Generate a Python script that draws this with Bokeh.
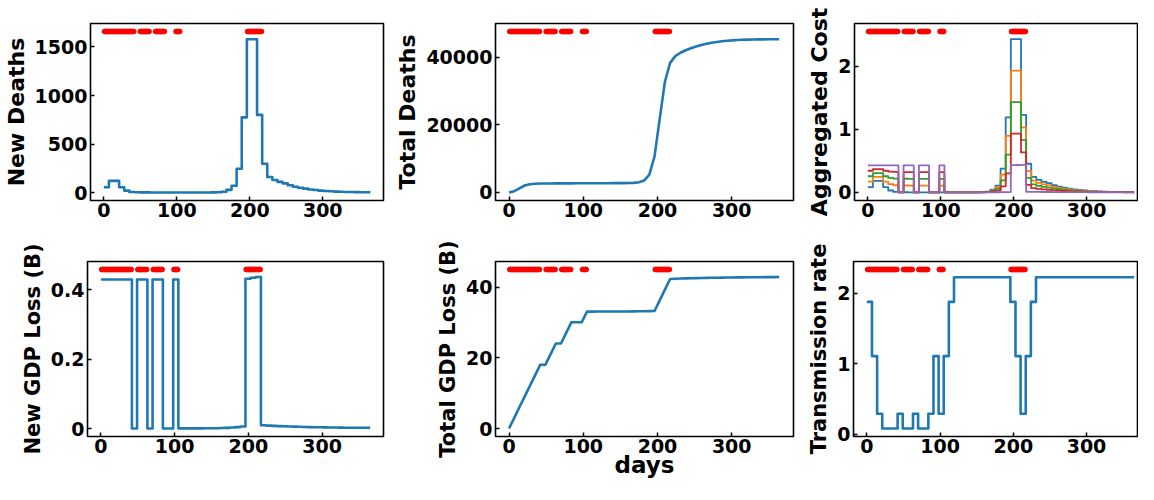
from bokeh.plotting import figure
from bokeh.layouts import column, row
from bokeh.models import Range1d, FixedTicker
from bokeh.embed import file_html
from bokeh.resources import INLINE

# ---------------- data (weekly values, week starting on the given day) ----------------
week_days = list(range(0, 365, 7))
end_day = 365

new_deaths = [55, 120, 120, 55, 20, 6, 3, 2, 1.5, 1,
              1, 1, 1, 1, 1, 1, 1, 1, 1, 1,
              1, 1.5, 3, 8, 28, 70, 245, 775, 1580, 1580,
              800, 296, 160, 130, 110, 95, 75, 60, 50, 40,
              32, 26, 20, 16, 13, 10, 8, 6, 5, 4,
              3, 3, 2]

total_deaths = [0, 385, 1225, 2065, 2450, 2590, 2632, 2653, 2667, 2678,
                2685, 2692, 2699, 2706, 2713, 2720, 2727, 2734, 2741, 2748,
                2755, 2762, 2772, 2790, 2840, 3040, 3530, 5250, 10700, 21800,
                32800, 38400, 40400, 41400, 42150, 42750, 43250, 43700, 44050, 44350,
                44600, 44800, 44950, 45070, 45160, 45230, 45280, 45320, 45350, 45370,
                45390, 45400, 45410]

cost_w100 = [0.085, 0.185, 0.185, 0.085, 0.031, 0.009, 0.005, 0.003, 0.002, 0.002,
             0.002, 0.002, 0.002, 0.002, 0.002, 0.002, 0.002, 0.002, 0.002, 0.002,
             0.002, 0.002, 0.005, 0.012, 0.043, 0.108, 0.377, 1.192, 2.43, 2.43,
             1.23, 0.455, 0.246, 0.2, 0.169, 0.146, 0.115, 0.092, 0.077, 0.062,
             0.049, 0.04, 0.031, 0.025, 0.02, 0.015, 0.012, 0.009, 0.008, 0.006,
             0.005, 0.005, 0.003]
cost_w75 = [0.171, 0.246, 0.246, 0.171, 0.131, 0.114, 0.003, 0.110, 0.109, 0.001,
            0.109, 0.109, 0.001, 0.001, 0.109, 0.001, 0.001, 0.001, 0.001, 0.001,
            0.001, 0.002, 0.004, 0.010, 0.033, 0.082, 0.284, 0.896, 1.931, 1.931,
            1.032, 0.343, 0.187, 0.152, 0.129, 0.111, 0.088, 0.070, 0.059, 0.048,
            0.038, 0.031, 0.024, 0.020, 0.016, 0.012, 0.010, 0.008, 0.007, 0.005,
            0.005, 0.005, 0.003]
cost_w50 = [0.257, 0.307, 0.307, 0.257, 0.230, 0.220, 0.002, 0.217, 0.216, 0.001,
            0.216, 0.216, 0.001, 0.001, 0.216, 0.001, 0.001, 0.001, 0.001, 0.001,
            0.001, 0.001, 0.003, 0.007, 0.023, 0.056, 0.190, 0.599, 1.431, 1.433,
            0.834, 0.232, 0.127, 0.104, 0.088, 0.076, 0.061, 0.049, 0.041, 0.033,
            0.027, 0.022, 0.018, 0.014, 0.012, 0.009, 0.008, 0.006, 0.006, 0.005,
            0.004, 0.004, 0.003]
cost_w25 = [0.344, 0.369, 0.369, 0.344, 0.330, 0.325, 0.001, 0.323, 0.323, 0.000,
            0.323, 0.323, 0.000, 0.000, 0.323, 0.000, 0.000, 0.000, 0.000, 0.000,
            0.000, 0.001, 0.002, 0.004, 0.012, 0.029, 0.097, 0.303, 0.932, 0.934,
            0.635, 0.121, 0.068, 0.056, 0.048, 0.041, 0.033, 0.027, 0.023, 0.019,
            0.016, 0.013, 0.011, 0.009, 0.008, 0.006, 0.005, 0.005, 0.004, 0.004,
            0.003, 0.003, 0.003]
cost_w0 = [0.43, 0.43, 0.43, 0.43, 0.43, 0.43, 0.0, 0.43, 0.43, 0.0,
           0.43, 0.43, 0.0, 0.0, 0.43, 0.0, 0.0, 0.0, 0.001, 0.001,
           0.001, 0.001, 0.001, 0.002, 0.002, 0.003, 0.004, 0.006, 0.432, 0.435,
           0.437, 0.01, 0.009, 0.008, 0.007, 0.007, 0.006, 0.006, 0.005, 0.005,
           0.004, 0.004, 0.004, 0.003, 0.003, 0.003, 0.003, 0.003, 0.002, 0.002,
           0.002, 0.002, 0.002]

new_gdp_loss = [0.43, 0.43, 0.43, 0.43, 0.43, 0.43, 0.0, 0.43, 0.43, 0.0,
                0.43, 0.43, 0.0, 0.0, 0.43, 0.0005, 0.0005, 0.0005, 0.0006, 0.0006,
                0.0007, 0.0008, 0.001, 0.0015, 0.002, 0.003, 0.004, 0.006, 0.432, 0.435,
                0.437, 0.0095, 0.0085, 0.0078, 0.0071, 0.0065, 0.006, 0.0055, 0.005, 0.0046,
                0.0042, 0.0039, 0.0036, 0.0033, 0.0031, 0.0029, 0.0027, 0.0025, 0.0024, 0.0023,
                0.0022, 0.0021, 0.002]

total_gdp_loss = [0, 3.01, 6.02, 9.03, 12.04, 15.05, 18.06, 18.06, 21.07, 24.08,
                  24.08, 27.09, 30.1, 30.1, 30.1, 33.11, 33.11, 33.12, 33.12, 33.13,
                  33.13, 33.14, 33.15, 33.16, 33.17, 33.19, 33.21, 33.24, 33.28, 36.3,
                  39.35, 42.35, 42.42, 42.47, 42.52, 42.56, 42.6, 42.63, 42.66, 42.69,
                  42.71, 42.73, 42.75, 42.77, 42.79, 42.81, 42.82, 42.84, 42.85, 42.86,
                  42.87, 42.88, 42.9]

transmission_rate = [1.88, 1.11, 0.29, 0.08, 0.08, 0.08, 0.29, 0.08, 0.08, 0.29,
                     0.08, 0.08, 0.29, 1.11, 0.29, 1.11, 1.88, 2.23, 2.23, 2.23,
                     2.23, 2.23, 2.23, 2.23, 2.23, 2.23, 2.23, 2.23, 1.88, 1.11,
                     0.29, 1.11, 1.88, 2.23, 2.23, 2.23, 2.23, 2.23, 2.23, 2.23,
                     2.23, 2.23, 2.23, 2.23, 2.23, 2.23, 2.23, 2.23, 2.23, 2.23,
                     2.23, 2.23, 2.23]

# lockdown periods (days with red markers, inclusive)
lockdown_first_day = [1, 50, 71, 99, 197]
lockdown_last_day = [41, 62, 83, 104, 216]

x_ticks = [0, 100, 200, 300]
y_ticks_new_deaths = [0, 500, 1000, 1500]
y_ticks_total_deaths = [0, 20000, 40000]
y_ticks_cost = [0, 1, 2]
y_ticks_new_gdp = [0.0, 0.2, 0.4]
y_ticks_total_gdp = [0, 20, 40]
y_ticks_rate = [0, 1, 2]

labels = ["New Deaths", "Total Deaths", "Aggregated Cost",
          "New GDP Loss (B)", "Total GDP Loss (B)", "Transmission rate"]
x_label = "days"

# ---------------- style ----------------
FONT = "DejaVu Sans"
C = ["#1f77b4", "#ff7f0e", "#2ca02c", "#d62728", "#9467bd"]
DOT = "#ff0000"
X_START = -18.25
X_END = 383.25
X_END_RIGHT = 371.0

lock_days = []
for a, b in zip(lockdown_first_day, lockdown_last_day):
    lock_days.extend(range(a, b + 1))


def step_xy(vals):
    return week_days + [end_day], list(vals) + [vals[-1]]


def make_fig(w, h, bl, br, bt, bb, series_lists, yticks, ylabel, xend=X_END, label_size="22px"):
    marker = 1.05 * max(max(s) for s in series_lists)
    lo = min(min(s) for s in series_lists)
    pad = 0.05 * (marker - lo)
    p = figure(width=w, height=h, min_border_left=bl, min_border_right=br,
               min_border_top=bt, min_border_bottom=bb,
               x_range=Range1d(X_START, xend), y_range=Range1d(lo - pad, marker + pad),
               output_backend="svg", toolbar_location=None, tools="")
    p.xgrid.visible = False
    p.ygrid.visible = False
    p.background_fill_color = "white"
    p.border_fill_color = "white"
    p.outline_line_color = "black"
    p.outline_line_width = 1.6
    p.outline_line_alpha = 1.0
    for ax in (p.xaxis[0], p.yaxis[0]):
        ax.axis_line_color = None
        ax.major_tick_in = 4
        ax.major_tick_out = 0
        ax.major_tick_line_width = 1.5
        ax.major_tick_line_color = "black"
        ax.minor_tick_line_color = None
        ax.major_label_text_font = FONT
        ax.major_label_text_font_style = "bold"
        ax.major_label_text_font_size = "19px"
        ax.major_label_text_color = "black"
        ax.axis_label_text_font = FONT
        ax.axis_label_text_font_style = "bold"
        ax.axis_label_text_font_size = label_size
        ax.axis_label_text_color = "black"
    p.xaxis[0].ticker = FixedTicker(ticks=x_ticks)
    p.yaxis[0].ticker = FixedTicker(ticks=yticks)
    p.xaxis[0].major_label_standoff = 2
    p.yaxis[0].major_label_standoff = 3
    p.yaxis[0].axis_label_standoff = 3
    p.yaxis[0].axis_label = ylabel
    if hasattr(p.yaxis[0].formatter, "use_scientific"):
        p.yaxis[0].formatter.use_scientific = False
    return p, marker


def add_dots(p, level):
    p.scatter(lock_days, [level] * len(lock_days), size=5.5, color=DOT,
              line_color=None, marker="circle")


ROW1_H = 227
ROW2_H = 257
R2_TOP = 34
R2_BOTTOM = 48

# panel 1: new deaths
p1, m1 = make_fig(392, ROW1_H, 87, 9, 23, 27, [new_deaths], y_ticks_new_deaths, labels[0])
xs, ys = step_xy(new_deaths)
p1.step(xs, ys, mode="after", line_color=C[0], line_width=2.6, line_join="round")
add_dots(p1, m1)

# panel 2: total deaths
p2, m2 = make_fig(412, ROW1_H, 103, 11, 23, 27, [total_deaths], y_ticks_total_deaths, labels[1])
p2.line(week_days, total_deaths, line_color=C[0], line_width=2.6, line_join="round")
add_dots(p2, m2)

# panel 3: aggregated cost
costs = [cost_w100, cost_w75, cost_w50, cost_w25, cost_w0]
p3, m3 = make_fig(334, ROW1_H, 47, 0, 23, 27, costs, y_ticks_cost, labels[2], xend=X_END_RIGHT)
for i, s in enumerate(costs):
    xs, ys = step_xy(s)
    p3.step(xs, ys, mode="after", line_color=C[i], line_width=1.8, line_join="round")
add_dots(p3, m3)

# panel 4: new GDP loss
p4, m4 = make_fig(392, ROW2_H, 87, 9, R2_TOP, R2_BOTTOM, [new_gdp_loss], y_ticks_new_gdp,
                  labels[3], label_size="21px")
xs, ys = step_xy(new_gdp_loss)
p4.step(xs, ys, mode="after", line_color=C[0], line_width=2.6, line_join="round")
add_dots(p4, m4)

# panel 5: total GDP loss
p5, m5 = make_fig(412, ROW2_H, 103, 11, R2_TOP, R2_BOTTOM, [total_gdp_loss], y_ticks_total_gdp,
                  labels[4], label_size="21px")
p5.line(week_days, total_gdp_loss, line_color=C[0], line_width=2.6, line_join="round")
add_dots(p5, m5)
p5.xaxis[0].axis_label = x_label
p5.xaxis[0].axis_label_text_font_size = "23px"
p5.xaxis[0].axis_label_standoff = -4

# panel 6: transmission rate
p6, m6 = make_fig(334, ROW2_H, 47, 0, R2_TOP, R2_BOTTOM, [transmission_rate], y_ticks_rate,
                  labels[5], xend=X_END_RIGHT, label_size="21px")
xs, ys = step_xy(transmission_rate)
p6.step(xs, ys, mode="after", line_color=C[0], line_width=2.6, line_join="round")
add_dots(p6, m6)

layout = column(row(p1, p2, p3), row(p4, p5, p6))
open("out.html", "w").write(file_html(layout, INLINE))
